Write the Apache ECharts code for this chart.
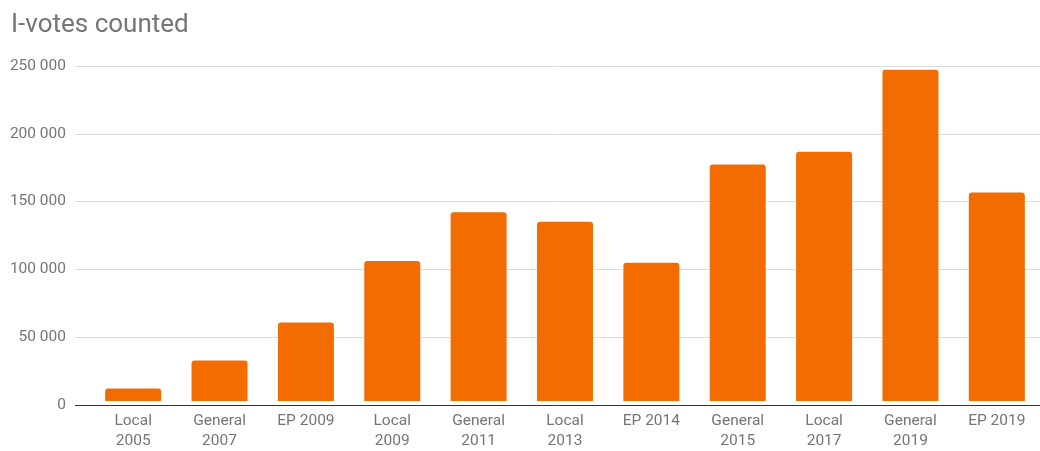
<!DOCTYPE html>
<html>
<head>
<meta charset="utf-8">
<script src="https://cdn.jsdelivr.net/npm/echarts@6/dist/echarts.min.js"></script>
<style>html,body{margin:0;padding:0;background:#fff}#c{width:1040px;height:451px}</style>
</head>
<body>
<div id="c"></div>
<script>
const categories = ['Local\n2005','General\n2007','EP 2009','Local\n2009','General\n2011','Local\n2013','EP 2014','General\n2015','Local\n2017','General\n2019','EP 2019'];
const ivotes = [9317, 30275, 58669, 104415, 140846, 133808, 103151, 176491, 186034, 247232, 155521];
const yMin = 0, yMax = 250000, yInterval = 50000;

const fmt = v => String(v).replace(/\B(?=(\d{3})+(?!\d))/g, ' ');
const chart = echarts.init(document.getElementById('c'), null, {renderer: 'canvas'});
chart.setOption({
  animation: false,
  title: {
    text: 'I-votes counted', left: 6, top: 7,
    textStyle: {fontFamily: 'Roboto', fontSize: 26, fontWeight: 'normal', color: '#757575'}
  },
  grid: [
    {left: 75, right: 0, top: 66, bottom: 46, containLabel: false},
    {left: 90, right: -4, top: 66, bottom: 46, containLabel: false}
  ],
  xAxis: [
    {gridIndex: 0, type: 'value', show: false, min: 0, max: 1},
    {gridIndex: 1, type: 'category', data: categories,
      axisLine: {show: false}, axisTick: {show: false},
      axisLabel: {interval: 0, margin: 10, fontFamily: 'Roboto', fontSize: 15.5, lineHeight: 20, color: '#757575'}}
  ],
  yAxis: [
    {gridIndex: 0, type: 'value', min: yMin, max: yMax, interval: yInterval,
      axisLine: {show: false}, axisTick: {show: false},
      axisLabel: {margin: 9, fontFamily: 'Roboto', fontSize: 15.5, color: '#757575', formatter: fmt},
      splitLine: {lineStyle: {color: ['#333333','#dcdcdc','#dcdcdc','#dcdcdc','#dcdcdc','#dcdcdc'], width: 1}}},
    {gridIndex: 1, type: 'value', min: yMin, max: yMax, interval: yInterval, show: false}
  ],
  series: [
    {type: 'bar', xAxisIndex: 1, yAxisIndex: 1, data: ivotes, barWidth: 56,
      itemStyle: {color: '#f36c00', borderRadius: [3,3,0,0]}, z: 3}
  ]
});
</script>
</body>
</html>
